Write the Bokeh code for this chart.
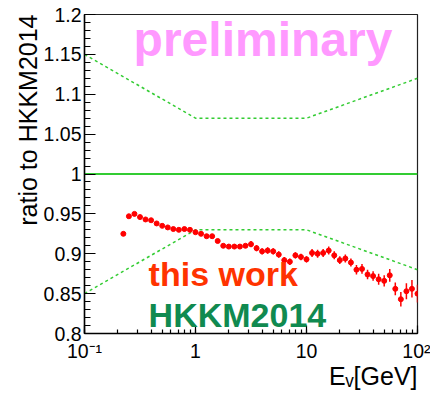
import numpy as np
from bokeh.plotting import figure
from bokeh.models import Range1d, FixedTicker, LogTicker, Label, PrintfTickFormatter, Title
from bokeh.embed import file_html
from bokeh.resources import INLINE

# ---- data ----
log_energy = [-0.65, -0.60, -0.55, -0.50, -0.45, -0.40, -0.35, -0.30, -0.25, -0.20,
              -0.15, -0.10, -0.05, 0.00, 0.05, 0.10, 0.15, 0.20, 0.25, 0.30,
              0.35, 0.40, 0.45, 0.50, 0.55, 0.60, 0.65, 0.70, 0.75, 0.80,
              0.85, 0.90, 0.95, 1.00, 1.05, 1.10, 1.15, 1.20, 1.25, 1.30,
              1.35, 1.40, 1.45, 1.50, 1.55, 1.60, 1.65, 1.70, 1.75, 1.80,
              1.85, 1.90, 1.95, 2.00]
ratio = [0.925, 0.947, 0.950, 0.946, 0.943, 0.942, 0.938, 0.935, 0.933, 0.931,
         0.930, 0.931, 0.930, 0.927, 0.925, 0.922, 0.922, 0.916, 0.910, 0.909,
         0.909, 0.909, 0.910, 0.912, 0.907, 0.903, 0.904, 0.903, 0.899, 0.892,
         0.890, 0.898, 0.896, 0.893, 0.901, 0.900, 0.901, 0.904, 0.898, 0.892,
         0.894, 0.889, 0.880, 0.881, 0.874, 0.872, 0.868, 0.866, 0.873, 0.856,
         0.843, 0.853, 0.856, 0.850]
ratio_err = [0.0015, 0.0015, 0.0015, 0.0015, 0.0015, 0.0015, 0.0015, 0.0015, 0.0015, 0.0015,
             0.0015, 0.0015, 0.0015, 0.002, 0.002, 0.002, 0.002, 0.002, 0.002, 0.002,
             0.002, 0.002, 0.002, 0.004, 0.004, 0.004, 0.004, 0.004, 0.004, 0.004,
             0.004, 0.004, 0.004, 0.004, 0.005, 0.005, 0.005, 0.005, 0.005, 0.005,
             0.005, 0.005, 0.006, 0.006, 0.006, 0.006, 0.007, 0.007, 0.008, 0.008,
             0.009, 0.010, 0.011, 0.011]

band_energy = [0.1, 1.0, 10.0, 100.0]
band_upper = [1.15, 1.07, 1.07, 1.12]
band_lower = [0.85, 0.93, 0.93, 0.88]
ref_energy = [0.1, 100.0]
ref_ratio = [1.0, 1.0]

y_ticks = [0.8, 0.85, 0.9, 0.95, 1.0, 1.05, 1.1, 1.15, 1.2]
x_tick_labels = {0.1: "10\u207b\u00b9", 1: "1", 10: "10", 100: "10\u00b2"}

energy = [10 ** v for v in log_energy]
lo = [r - e for r, e in zip(ratio, ratio_err)]
hi = [r + e for r, e in zip(ratio, ratio_err)]

FONT = "Liberation Sans"

p = figure(width=430, height=400, x_axis_type="log",
           x_range=Range1d(0.1, 100), y_range=Range1d(0.8, 1.2),
           output_backend="svg", toolbar_location=None,
           min_border_left=84, min_border_right=13, min_border_top=14, min_border_bottom=67)
p.background_fill_color = "white"
p.border_fill_color = "white"
p.outline_line_color = "#222222"
p.outline_line_width = 1.2
p.xgrid.visible = False
p.ygrid.visible = False

# y axis
minor = list(np.round(np.arange(0.8, 1.2001, 0.01), 2))
p.yaxis.ticker = FixedTicker(ticks=y_ticks, minor_ticks=minor)
p.yaxis.formatter = PrintfTickFormatter(format="%g")
p.yaxis.major_tick_in = 11
p.yaxis.major_tick_out = 0
p.yaxis.minor_tick_in = 6
p.yaxis.minor_tick_out = 0
p.yaxis.major_label_standoff = 3
p.yaxis.major_label_text_font = FONT
p.yaxis.major_label_text_font_size = "19.5px"
p.yaxis.major_label_text_color = "black"

# x axis
p.xaxis.ticker = LogTicker(num_minor_ticks=10)
p.xaxis.major_label_overrides = x_tick_labels
p.xaxis.major_tick_in = 8
p.xaxis.major_tick_out = 0
p.xaxis.minor_tick_in = 4
p.xaxis.minor_tick_out = 0
p.xaxis.major_label_standoff = 6
p.xaxis.major_label_text_font = FONT
p.xaxis.major_label_text_font_size = "19.5px"
p.xaxis.major_label_text_color = "black"

for ax in (p.xaxis, p.yaxis):
    ax.axis_line_color = "black"
    ax.axis_line_width = 1.5
    ax.major_tick_line_color = "black"
    ax.minor_tick_line_color = "black"
    ax.major_tick_line_width = 1.2
    ax.minor_tick_line_width = 1.2

# axis titles, aligned to the far ends of the frame
p.add_layout(Title(text="E\u1d65[GeV]", align="right", vertical_align="top", text_font=FONT,
                   text_font_size="25px", text_font_style="normal",
                   text_color="black", standoff=-6), "below")
p.add_layout(Title(text="ratio to HKKM2014", align="right", text_font=FONT,
                   text_font_size="25px", text_font_style="normal",
                   text_color="black", standoff=-3), "left")

# reference lines
p.line(ref_energy, ref_ratio, line_color="#33cc33", line_width=2)
p.line(band_energy, band_upper, line_color="#33cc33", line_width=1.5, line_dash="3 3")
p.line(band_energy, band_lower, line_color="#33cc33", line_width=1.5, line_dash="3 3")

# data
p.segment(energy, lo, energy, hi, line_color="red", line_width=1.5)
p.scatter(energy, ratio, marker="circle", size=5, fill_color="red", line_color="red")

# labels
p.add_layout(Label(x=0.277, y=1.1689, text="preliminary", text_font=FONT,
                   text_font_size="48px", text_font_style="bold", text_color="#ff99ff",
                   text_baseline="middle"))
p.add_layout(Label(x=0.378, y=0.8740, text="this work", text_font=FONT,
                   text_font_size="34px", text_font_style="bold", text_color="#ff3300",
                   text_baseline="middle"))
p.add_layout(Label(x=0.378, y=0.8238, text="HKKM2014", text_font=FONT,
                   text_font_size="34px", text_font_style="bold", text_color="#108a50",
                   text_baseline="middle"))

open("out.html", "w").write(file_html(p, INLINE))
